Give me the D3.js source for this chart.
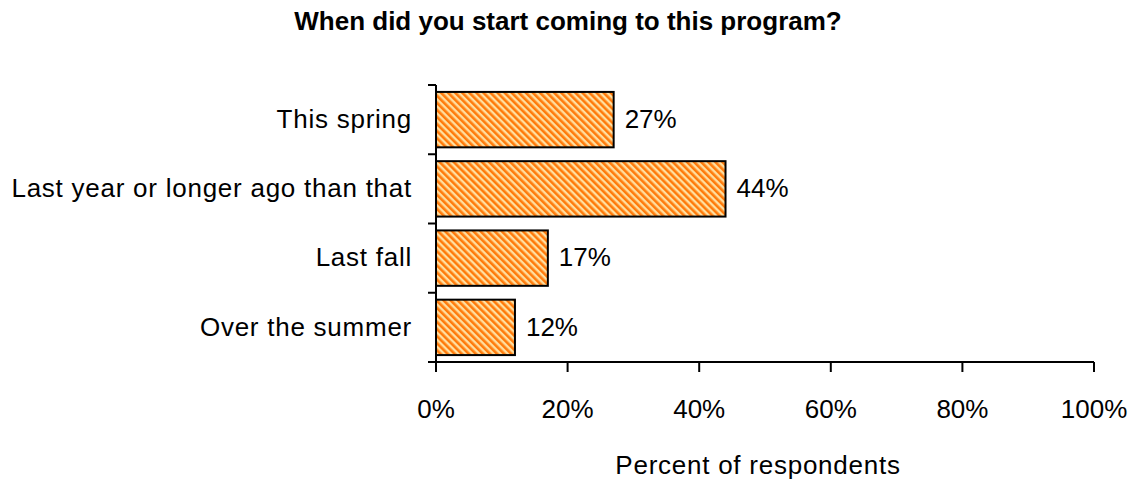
<!DOCTYPE html>
<html>
<head>
<meta charset="utf-8">
<script src="https://cdn.jsdelivr.net/npm/d3@7"></script>
<style>
  html, body { margin: 0; padding: 0; background: #fff; }
  svg { display: block; font-family: "Liberation Sans", Arial, sans-serif; }
</style>
</head>
<body>
<svg id="chart" width="1136" height="480"></svg>
<script>
// Survey responses
const categories = ["This spring", "Last year or longer ago than that", "Last fall", "Over the summer"];
const percents = [27, 44, 17, 12];
const xTicks = [0, 20, 40, 60, 80, 100];
const titleText = "When did you start coming to this program?";
const xAxisTitle = "Percent of respondents";

const svg = d3.select("#chart");
const margin = { left: 436, right: 42, top: 85, bottom: 118 };
const W = 1136, H = 480;

const x = d3.scaleLinear().domain([0, 100]).range([margin.left, W - margin.right]);
const y = d3.scaleBand().domain(categories).range([margin.top, H - margin.bottom])
  .paddingInner(0.2).paddingOuter(0.1);

// Diagonal hatch fill
const defs = svg.append("defs");
const pat = defs.append("pattern")
  .attr("id", "hatch")
  .attr("patternUnits", "userSpaceOnUse")
  .attr("width", 5).attr("height", 5)
  .attr("patternTransform", "rotate(-45)");
pat.append("rect").attr("width", 5).attr("height", 5).attr("fill", "#FFDFA0");
pat.append("rect").attr("width", 2.6).attr("height", 5).attr("fill", "#FF7A0A");

// Title
svg.append("text")
  .attr("x", W / 2).attr("y", 30)
  .attr("text-anchor", "middle")
  .attr("font-size", 26).attr("font-weight", "bold")
  .text(titleText);

// Bars
svg.append("g").selectAll("rect")
  .data(categories)
  .join("rect")
  .attr("x", x(0))
  .attr("y", d => y(d))
  .attr("width", (d, i) => x(percents[i]) - x(0))
  .attr("height", y.bandwidth())
  .attr("fill", "url(#hatch)")
  .attr("stroke", "#000")
  .attr("stroke-width", 2);

// Value labels
svg.append("g").selectAll("text")
  .data(categories)
  .join("text")
  .attr("x", (d, i) => x(percents[i]) + 11)
  .attr("y", d => y(d) + y.bandwidth() / 2)
  .attr("dy", "0.32em")
  .attr("font-size", 26)
  .text((d, i) => percents[i] + "%");

// Y axis: line with ticks at band boundaries
const yAxis = svg.append("g").attr("stroke", "#000").attr("stroke-width", 2);
const y0 = margin.top, y1 = H - margin.bottom;
yAxis.append("line").attr("x1", x(0)).attr("x2", x(0)).attr("y1", y0).attr("y2", y1);
const step = (y1 - y0) / categories.length;
yAxis.selectAll("line.tick")
  .data(d3.range(categories.length + 1))
  .join("line").attr("class", "tick")
  .attr("x1", x(0) - 8).attr("x2", x(0))
  .attr("y1", i => y0 + i * step).attr("y2", i => y0 + i * step);

// Category labels
svg.append("g").selectAll("text")
  .data(categories)
  .join("text")
  .attr("x", x(0) - 24)
  .attr("y", d => y(d) + y.bandwidth() / 2)
  .attr("dy", "0.32em")
  .attr("text-anchor", "end")
  .attr("font-size", 26)
  .attr("letter-spacing", 0.75)
  .text(d => d);

// X axis
const xAxis = svg.append("g").attr("stroke", "#000").attr("stroke-width", 2);
xAxis.append("line").attr("x1", x(0)).attr("x2", x(100)).attr("y1", y1).attr("y2", y1);
xAxis.selectAll("line.tick")
  .data(xTicks)
  .join("line").attr("class", "tick")
  .attr("x1", d => x(d)).attr("x2", d => x(d))
  .attr("y1", y1).attr("y2", y1 + 10);

svg.append("g").selectAll("text")
  .data(xTicks)
  .join("text")
  .attr("x", d => x(d))
  .attr("y", 418)
  .attr("text-anchor", "middle")
  .attr("font-size", 26)
  .text(d => d + "%");

svg.append("text")
  .attr("x", 758).attr("y", 474)
  .attr("text-anchor", "middle")
  .attr("font-size", 26)
  .attr("letter-spacing", 0.75)
  .text(xAxisTitle);
</script>
</body>
</html>
